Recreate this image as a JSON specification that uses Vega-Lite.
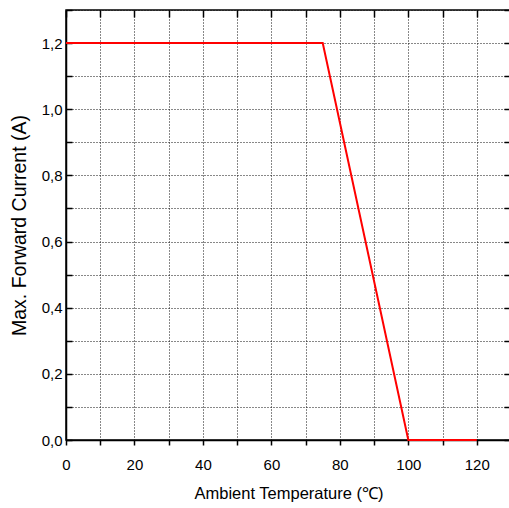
{
  "$schema": "https://vega.github.io/schema/vega-lite/v6.json",
  "width": 445,
  "height": 430,
  "autosize": {"type": "none"},
  "padding": {"left": 66, "top": 10, "right": 0, "bottom": 68},
  "background": "white",
  "config": {
    "view": {"stroke": "black", "strokeWidth": 1.5},
    "axis": {"labelFont": "Liberation Sans", "titleFont": "Liberation Sans", "labelColor": "black", "titleColor": "black", "titleFontWeight": "normal"}
  },
  "data": {"values": [
    {"t": 0, "i": 1.2},
    {"t": 75, "i": 1.2},
    {"t": 100, "i": 0},
    {"t": 120, "i": 0}
  ]},
  "layer": [
    {
      "mark": {"type": "line", "color": "#ff0000", "strokeWidth": 2},
      "encoding": {
        "x": {
          "field": "t", "type": "quantitative",
          "scale": {"domain": [0, 130], "nice": false, "zero": false},
          "axis": {
            "values": [0, 10, 20, 30, 40, 50, 60, 70, 80, 90, 100, 110, 120, 130],
            "labelExpr": "datum.value % 20 === 0 && datum.value <= 120 ? datum.label : ''",
            "labelFontSize": 15, "labelPadding": 12, "labelFlush": false,
            "tickSize": 5, "tickColor": "black", "tickWidth": 1.5,
            "domainColor": "black", "domainWidth": 1.5,
            "grid": true, "gridColor": "#111111", "gridDash": [1, 2], "gridWidth": 1,
            "title": "Ambient Temperature (℃)", "titleFontSize": 16.5, "titlePadding": 13
          }
        },
        "y": {
          "field": "i", "type": "quantitative",
          "scale": {"domain": [0, 1.3], "nice": false, "zero": false},
          "axis": {
            "values": [0, 0.1, 0.2, 0.3, 0.4, 0.5, 0.6, 0.7, 0.8, 0.9, 1.0, 1.1, 1.2, 1.3],
            "labelExpr": "(round(datum.value*10) % 2 === 0 && datum.value < 1.25) ? replace(format(datum.value, '.1f'), '.', ',') : ''",
            "labelFontSize": 15, "labelPadding": 10, "labelFlush": false,
            "tickSize": -6, "tickColor": "black", "tickWidth": 1.5,
            "domainColor": "black", "domainWidth": 1.5,
            "grid": true, "gridColor": "#111111", "gridDash": [1, 2], "gridWidth": 1,
            "title": "Max. Forward Current (A)", "titleFontSize": 19.5, "titlePadding": 12
          }
        }
      }
    },
    {
      "mark": {"type": "rule", "opacity": 0},
      "encoding": {
        "x": {
          "field": "t", "type": "quantitative",
          "axis": {
            "orient": "top", "values": [0, 10, 20, 30, 40, 50, 60, 70, 80, 90, 100, 110, 120, 130],
            "labels": false, "tickSize": -7, "tickColor": "black", "tickWidth": 1.5,
            "domain": false, "grid": false, "title": null
          }
        },
        "y": {
          "field": "i", "type": "quantitative",
          "axis": {
            "orient": "right", "values": [0, 0.1, 0.2, 0.3, 0.4, 0.5, 0.6, 0.7, 0.8, 0.9, 1.0, 1.1, 1.2, 1.3],
            "labels": false, "tickSize": -7, "tickColor": "black", "tickWidth": 1.5,
            "domain": false, "grid": false, "title": null
          }
        }
      }
    }
  ],
  "resolve": {"axis": {"x": "independent", "y": "independent"}}
}
